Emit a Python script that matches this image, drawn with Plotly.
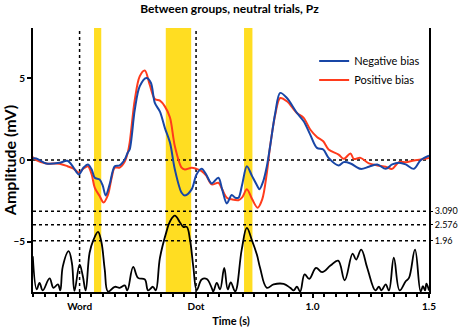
import plotly.graph_objects as go

# ---- data ----
neg_t = [-0.202, -0.186, -0.143, -0.086, -0.052, -0.026, -0.003, 0.017, 0.036, 0.052, 0.065, 0.086,
         0.099, 0.112, 0.129, 0.151, 0.172, 0.194, 0.207, 0.215, 0.237, 0.258, 0.287, 0.306, 0.323,
         0.345, 0.366, 0.388, 0.409, 0.438, 0.452, 0.481, 0.502, 0.524, 0.543, 0.567, 0.596, 0.612,
         0.632, 0.653, 0.668, 0.682, 0.698, 0.718, 0.741, 0.764, 0.772, 0.788, 0.804, 0.818, 0.840,
         0.861, 0.890, 0.933, 0.962, 0.990, 1.019, 1.046, 1.069, 1.112, 1.134, 1.163, 1.206, 1.242,
         1.278, 1.314, 1.342, 1.371, 1.400, 1.435, 1.464, 1.500]
neg_amp = [0.09, 0.09, -0.21, -0.17, -0.05, -0.46, -0.88, -0.46, -0.27, -0.58, -1.08, -1.19,
           -1.55, -2.16, -1.49, -0.38, -0.33, 0.03, 0.46, 0.64, 3.07, 4.49, 5.0, 4.71, 3.48,
           2.95, 1.96, 1.06, -0.58, -2.0, -2.16, -1.79, -0.88, -0.54, -0.88, -1.43, -1.08, -1.79,
           -2.65, -2.14, -2.3, -2.3, -1.49, -0.38, -1.0, -1.61, -1.79, -1.31, -0.38, 0.84, 2.87,
           4.09, 3.78, 2.87, 2.36, 1.55, 0.74, 0.64, 0.13, -0.33, -0.13, -0.21, -0.54, -0.41,
           -0.27, -0.54, -0.27, -0.17, -0.27, -0.54, -0.01, 0.27]

pos_t = [-0.202, -0.186, -0.143, -0.086, -0.052, -0.026, -0.003, 0.017, 0.036, 0.052, 0.065, 0.086,
         0.103, 0.121, 0.138, 0.151, 0.172, 0.194, 0.207, 0.215, 0.237, 0.258, 0.280, 0.301, 0.323,
         0.345, 0.366, 0.388, 0.409, 0.438, 0.452, 0.481, 0.502, 0.524, 0.543, 0.567, 0.596, 0.612,
         0.632, 0.653, 0.682, 0.698, 0.718, 0.741, 0.764, 0.784, 0.804, 0.818, 0.840, 0.861, 0.890,
         0.933, 0.962, 0.990, 1.019, 1.046, 1.069, 1.112, 1.134, 1.163, 1.177, 1.206, 1.242, 1.278,
         1.314, 1.342, 1.371, 1.400, 1.435, 1.464, 1.500]
pos_amp = [0.19, -0.01, -0.21, -0.23, -0.38, -0.52, -0.78, -0.52, -0.38, -0.88, -1.69, -2.20,
           -2.59, -2.16, -1.06, -0.47, -0.46, -0.09, 0.46, 1.06, 3.68, 5.10, 5.46, 4.59, 3.72,
           3.62, 3.27, 2.59, 0.84, -0.47, -0.58, -0.47, -0.54, -0.68, -0.94, -1.49, -1.39, -1.79,
           -2.30, -2.40, -2.45, -2.28, -1.79, -2.40, -2.91, -2.40, -0.78, 0.84, 2.77, 3.78, 3.58,
           2.87, 2.57, 1.86, 1.41, 1.14, 0.64, 0.33, 0.07, 0.40, 0.07, 0.13, -0.21, -0.33,
           -0.41, -0.54, -0.13, -0.13, -0.03, 0.03, 0.13]

z_t = [-0.201, -0.184, -0.172, -0.158, -0.129, -0.112, -0.093, -0.083, -0.072, -0.047, -0.033, -0.022,
       0.0, 0.014, 0.026, 0.043, 0.060, 0.079, 0.093, 0.108, 0.122, 0.151, 0.172, 0.194, 0.205,
       0.230, 0.251, 0.280, 0.294, 0.315, 0.327, 0.345, 0.373, 0.388, 0.409, 0.431, 0.445, 0.460,
       0.474, 0.488, 0.503, 0.524, 0.546, 0.567, 0.574, 0.589, 0.603, 0.621, 0.636, 0.649, 0.668,
       0.696, 0.718, 0.739, 0.761, 0.775, 0.804, 0.833, 0.876, 0.904, 0.919, 0.933, 0.947, 0.966,
       0.986, 1.015, 1.041, 1.077, 1.110, 1.138, 1.172, 1.187, 1.209, 1.235, 1.270, 1.285, 1.296,
       1.314, 1.328, 1.349, 1.374, 1.400, 1.414, 1.440, 1.464, 1.474, 1.483, 1.489, 1.500]
z_val = [1.37, 0.10, 0.35, 0.06, 0.52, 0.16, 0.29, 0.06, 0.98, 1.56, 1.11, 0.04,
         1.05, 0.60, 0.06, 1.50, 2.00, 2.30, 1.94, 0.86, 0.02, 0.20, 0.16, 0.25, 0.06,
         0.96, 0.54, 0.48, 0.06, 0.20, 0.06, 1.31, 2.31, 2.70, 2.92, 2.66, 2.49, 2.49,
         2.00, 0.98, 0.07, 0.48, 0.50, 0.16, 0.02, 0.35, 0.10, 0.92, 0.10, 0.37, 0.02,
         1.62, 2.45, 2.00, 1.43, 0.92, 0.16, 0.29, 0.31, 0.16, 0.06, 0.20, 0.02, 0.67,
         0.50, 0.92, 0.76, 1.01, 1.20, 0.45, 1.47, 1.24, 1.62, 0.92, 0.06, 0.20, 0.06,
         0.29, 0.06, 1.31, 0.06, 0.41, 0.54, 1.62, 0.02, 0.22, 0.06, 0.32, 0.06]

sig_windows = [(0.062, 0.093), (0.370, 0.479), (0.706, 0.742)]
z_thresholds = [1.96, 2.576, 3.090]
z_labels = ["1.96", "2.576", "3.090"]
event_times = [0.0, 0.5]
x_tickvals = [0.0, 0.5, 1.0, 1.5]
x_ticktext = ["Word", "Dot", "1.0", "1.5"]
y_tickvals = [-5, 0, 5]

BLUE = "#1846a6"
RED = "#ff3b1c"
YELLOW = "#ffdd22"
FONT = "Lato"

fig = go.Figure()

fig.add_trace(go.Scatter(x=pos_t, y=pos_amp, mode="lines", name="Positive bias",
                         line=dict(color=RED, width=2, shape="spline", smoothing=0.9),
                         legendrank=2))
fig.add_trace(go.Scatter(x=neg_t, y=neg_amp, mode="lines", name="Negative bias",
                         line=dict(color=BLUE, width=2, shape="spline", smoothing=0.9),
                         legendrank=1))
fig.add_trace(go.Scatter(x=z_t, y=z_val, mode="lines", yaxis="y2", showlegend=False,
                         line=dict(color="black", width=1.8, shape="spline", smoothing=1.1)))

shapes = []
# dotted reference lines
shapes.append(dict(type="line", xref="x", yref="y", x0=-0.2, x1=1.5, y0=0, y1=0,
                   line=dict(color="black", width=1.5, dash="dot"), layer="below"))
for zt in z_thresholds:
    shapes.append(dict(type="line", xref="x", yref="y2", x0=-0.2, x1=1.5, y0=zt, y1=zt,
                       line=dict(color="black", width=1.5, dash="dot"), layer="below"))
for et in event_times:
    shapes.append(dict(type="line", xref="x", yref="paper", x0=et, x1=et, y0=0, y1=1,
                       line=dict(color="black", width=1.5, dash="dot"), layer="below"))
for a, b in sig_windows:
    shapes.append(dict(type="rect", xref="x", yref="paper", x0=a, x1=b, y0=0, y1=1,
                       fillcolor=YELLOW, line=dict(width=0), layer="below"))

fig.update_layout(
    width=459, height=327,
    margin=dict(l=33, r=30, t=28, b=35, autoexpand=False),
    paper_bgcolor="white", plot_bgcolor="white",
    font=dict(family=FONT, color="black", size=10),
    title=dict(text="<b>Between groups, neutral trials, Pz</b>", font=dict(size=12, family=FONT),
               x=0.5, xref="container", xanchor="center", y=0.972, yanchor="middle"),
    shapes=shapes,
    showlegend=True,
    legend=dict(x=0.71, y=0.93, xanchor="left", yanchor="top", bgcolor="rgba(0,0,0,0)",
                font=dict(size=11, family=FONT), itemwidth=30, tracegroupgap=0,
                traceorder="normal"),
    xaxis=dict(range=[-0.2, 1.5], tickvals=x_tickvals, ticktext=x_ticktext, automargin=False,
               ticks="outside", ticklen=4, tickwidth=1.5, tickcolor="black",
               showline=True, linecolor="black", linewidth=2, showgrid=False, zeroline=False,
               tickfont=dict(size=10, family=FONT, weight="bold"),
               minor=dict(dtick=0.05, tick0=0, ticks="outside", ticklen=3, tickcolor="black",
                          showgrid=False),
               title=dict(text="<b>Time (s)</b>", font=dict(size=11, family=FONT), standoff=6)),
    yaxis=dict(range=[-8.05, 8.05], tickvals=y_tickvals, ticks="outside", ticklen=4,
               tickwidth=1.5, tickcolor="black", automargin=False,
               showline=True, linecolor="black", linewidth=2, showgrid=False, zeroline=False,
               tickfont=dict(size=10, family=FONT, weight="bold"),
               title=dict(text="<b>Amplitude (mV)</b>", font=dict(size=16, family=FONT), standoff=0)),
    yaxis2=dict(overlaying="y", side="right", range=[0, 10.1], tickvals=z_thresholds,
                ticktext=z_labels, ticks="outside", ticklen=2, tickcolor="black", automargin=False,
                showline=True, linecolor="black", linewidth=2, showgrid=False, zeroline=False,
                tickfont=dict(size=9, family=FONT)),
)

fig.write_html("out.html", config={"displayModeBar": False},
               post_script="document.body.style.margin='0';document.body.style.overflow='hidden';")
